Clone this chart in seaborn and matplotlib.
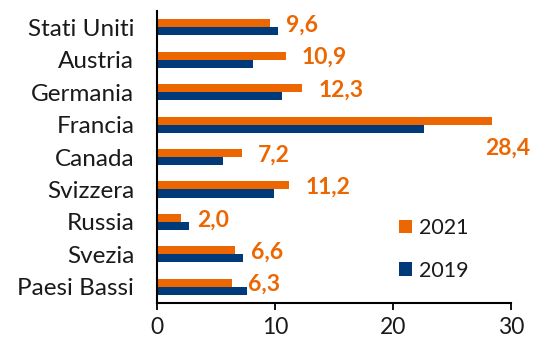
import matplotlib
matplotlib.use("Agg")
import matplotlib.pyplot as plt
import seaborn as sns
import pandas as pd

countries = ["Stati Uniti", "Austria", "Germania", "Francia", "Canada",
             "Svizzera", "Russia", "Svezia", "Paesi Bassi"]
values_2021 = [9.6, 10.9, 12.3, 28.4, 7.2, 11.2, 2.0, 6.6, 6.3]
values_2019 = [10.2, 8.1, 10.6, 22.6, 5.6, 9.9, 2.7, 7.3, 7.6]
years = ["2021", "2019"]
x_ticks = [0, 10, 20, 30]

ORANGE = "#EC6602"
BLUE = "#003A78"

df = pd.DataFrame({
    "paese": countries * 2,
    "valore": values_2021 + values_2019,
    "anno": [years[0]] * len(countries) + [years[1]] * len(countries),
})

sns.set_theme(style="white")
plt.rcParams["font.family"] = ["Lato", "DejaVu Sans"]

fig = plt.figure(figsize=(5.33, 3.37), dpi=100)
ax = fig.add_axes([0.295, 0.101, 0.664, 0.866])

sns.barplot(data=df, y="paese", x="valore", hue="anno", hue_order=years,
            order=countries, orient="h", width=0.5,
            palette=[ORANGE, BLUE], linewidth=0, saturation=1, ax=ax)

ax.set_xlim(0, 30)
ax.set_xticks(x_ticks)
ax.set_xticklabels([str(t) for t in x_ticks], fontsize=16.5, color="#1a1a1a")
ax.set_ylim(len(countries) - 0.5, -0.5)
ax.set_xlabel("")
ax.set_ylabel("")
ax.tick_params(axis="y", length=0, labelsize=17.5, pad=16.5, labelcolor="#1a1a1a")
ax.tick_params(axis="x", bottom=True, direction="out", length=5, width=1.3,
               color="black", pad=5)
for side in ["top", "right"]:
    ax.spines[side].set_visible(False)
for side in ["left", "bottom"]:
    ax.spines[side].set_color("black")
    ax.spines[side].set_linewidth(1.5)

# value labels for 2021
for i, (name, v) in enumerate(zip(countries, values_2021)):
    label = f"{v:.1f}".replace(".", ",")
    if name == "Francia":
        ax.annotate(label, (v, i), xytext=(-5, -17), textcoords="offset points",
                    ha="left", va="center", color=ORANGE, fontsize=16.5,
                    fontweight="bold", annotation_clip=False)
    else:
        ax.annotate(label, (v, i), xytext=(11.5, 1.5), textcoords="offset points",
                    ha="left", va="center", color=ORANGE, fontsize=16.5,
                    fontweight="bold", annotation_clip=False)

leg = ax.legend(loc="upper left", bbox_to_anchor=(0.712, 0.41),
                bbox_transform=fig.transFigure, frameon=False,
                handlelength=0.6, handleheight=0.6, handletextpad=0.35,
                labelspacing=1.05, fontsize=15.5)
for t in leg.get_texts():
    t.set_color("#1a1a1a")

fig.savefig("out.png", dpi=100)
